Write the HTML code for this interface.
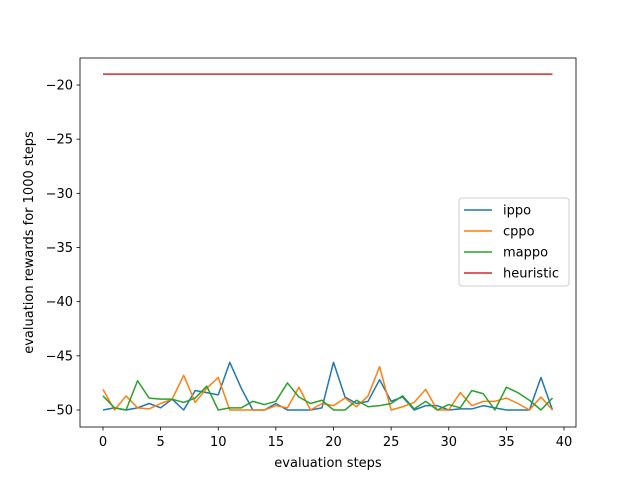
<!DOCTYPE html>
<html><head><meta charset="utf-8"><style>body{margin:0;background:#fff}svg{font-family:"DejaVu Sans","Liberation Sans",sans-serif}</style></head>
<body>
<svg id="chart" width="640" height="480" xmlns="http://www.w3.org/2000/svg"></svg>
<script>
const steps = Array.from({length:40},(_,i)=>i);
const ippo = [-50,-49.8,-50,-49.8,-49.4,-49.8,-49,-50,-48.2,-48.4,-48.6,-45.6,-48,-50,-50,-49.4,-50,-50,-50,-49.8,-45.6,-48.8,-49.4,-49.2,-47.2,-49.2,-48.8,-50,-49.6,-49.6,-50,-49.9,-49.9,-49.6,-49.8,-50,-50,-50,-47,-50];
const cppo = [-48.1,-50,-48.7,-49.8,-49.9,-49.4,-49,-46.8,-49.3,-48,-47,-50,-50,-50,-50,-49.6,-49.8,-47.9,-50,-49.4,-49.6,-48.9,-49.7,-48.7,-46,-50,-49.7,-49.3,-48.1,-50,-50,-48.4,-49.6,-49.2,-49.2,-48.9,-49.4,-50,-48.8,-50];
const mappo = [-48.7,-49.8,-50,-47.3,-48.9,-49,-49,-49.3,-48.9,-47.8,-50,-49.8,-49.8,-49.2,-49.5,-49.2,-47.5,-48.8,-49.4,-49.1,-50,-50,-49.1,-49.7,-49.6,-49.4,-48.7,-49.9,-49.2,-50,-49.5,-49.8,-48.2,-48.5,-50,-47.9,-48.4,-49.1,-50,-48.9];
const heuristic = Array(40).fill(-19);
const xTicks = [0,5,10,15,20,25,30,35,40];
const yTicks = [-20,-25,-30,-35,-40,-45,-50];
const seriesNames = ["ippo","cppo","mappo","heuristic"];
const colors = ["#1f77b4","#ff7f0e","#2ca02c","#d62728"];

const svg = document.getElementById('chart');
const NS = "http://www.w3.org/2000/svg";
const L=80,R=576,T=58,B=427;
const FS = 13;
const X = v => 103 + v*(564-103)/40;
const Y = v => 85 + (-20 - v)*(410-85)/30;
function mk(tag, attrs, parent){const e=document.createElementNS(NS,tag);for(const k in attrs)e.setAttribute(k,attrs[k]);(parent||svg).appendChild(e);return e;}

const frame = mk('rect',{x:L,y:T,width:R-L,height:B-T,fill:'none',stroke:'#000','stroke-width':0.8});



xTicks.forEach(t=>{
  const l=mk('line',{x1:X(t),x2:X(t),y1:B,y2:B+3.5,stroke:'#000','stroke-width':0.8});
  
  
  const tx=mk('text',{x:X(t),y:B+19,'text-anchor':'middle','font-size':FS});
  tx.textContent=t;
  
  
});
yTicks.forEach(t=>{
  const l=mk('line',{x1:L-3.5,x2:L,y1:Y(t),y2:Y(t),stroke:'#000','stroke-width':0.8});
  
  
  const tx=mk('text',{x:L-7,y:Y(t)+4.5,'text-anchor':'end','font-size':FS});
  tx.textContent='\u2212'+Math.abs(t);
  
  
});
const xt=mk('text',{x:(L+R)/2,y:467,'text-anchor':'middle','font-size':FS});
xt.textContent='evaluation steps';


const yt=mk('text',{x:0,y:0,'text-anchor':'middle','font-size':FS,transform:`translate(33,${(T+B)/2}) rotate(-90)`});
yt.textContent='evaluation rewards for 1000 steps';



[ippo,cppo,mappo,heuristic].forEach((s,i)=>{
  const p=mk('polyline',{points:s.map((v,j)=>X(steps[j])+','+Y(v)).join(' '),fill:'none',stroke:colors[i],'stroke-width':1.5,'stroke-linejoin':'round'});
  
  
});

const lg=mk('rect',{x:459,y:198,width:110,height:88,rx:3,fill:'#fff','fill-opacity':0.8,stroke:'#ccc','stroke-width':1});


seriesNames.forEach((n,i)=>{
  const y=210+i*21;
  const l=mk('line',{x1:464,x2:492,y1:y,y2:y,stroke:colors[i],'stroke-width':1.5});
  
  
  const t=mk('text',{x:503,y:y+4.5,'font-size':FS});
  t.textContent=n;
  
  
});
</script>
</body></html>
